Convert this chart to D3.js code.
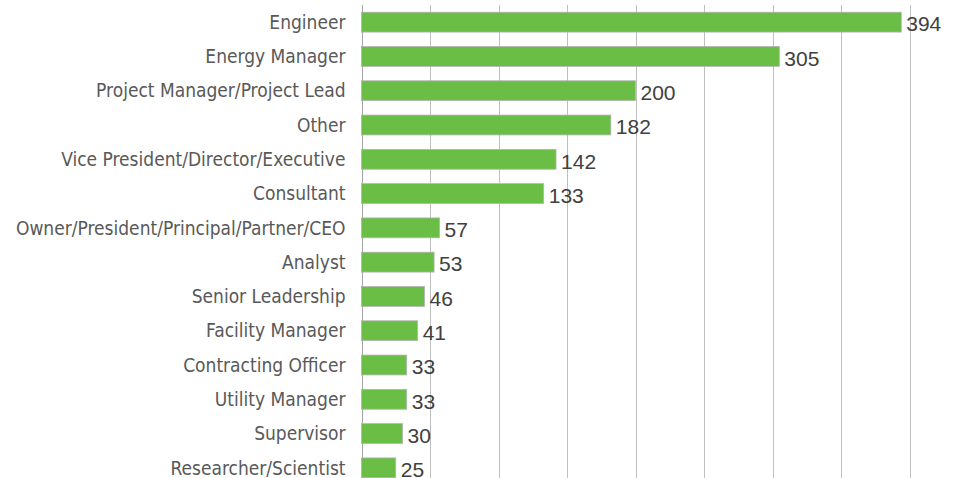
<!DOCTYPE html>
<html>
<head>
<meta charset="utf-8">
<script src="https://cdn.jsdelivr.net/npm/d3@7"></script>
<style>
  body { margin: 0; background: #fff; }
  text { font-family: "DejaVu Sans Condensed", "Liberation Sans Narrow", "Liberation Sans", sans-serif; }
  .value { font-family: "Liberation Sans", Arial, sans-serif; }
</style>
</head>
<body>
<svg id="drawing_region"></svg>
<script>
const categories = ['Engineer', 'Energy Manager', 'Project Manager/Project Lead', 'Other',
    'Vice President/Director/Executive', 'Consultant', 'Owner/President/Principal/Partner/CEO',
    'Analyst', 'Senior Leadership', 'Facility Manager', 'Contracting Officer',
    'Utility Manager', 'Supervisor', 'Researcher/Scientist'];
const counts = [394, 305, 200, 182, 142, 133, 57, 53, 46, 41, 33, 33, 30, 25];
const ticks = [0, 50, 100, 150, 200, 250, 300, 350, 400];

const width = 963, height = 478;
const margin = {top: 5, right: 53.5, bottom: -7, left: 361.5};

const svg = d3.select('#drawing_region')
    .attr('width', width)
    .attr('height', height);

const x = d3.scaleLinear()
    .domain([0, 400])
    .range([margin.left, width - margin.right]);

const y = d3.scaleBand()
    .domain(categories)
    .range([margin.top, height - margin.bottom])
    .paddingInner(0.42)
    .paddingOuter(0.21);

// vertical gridlines
svg.append('g')
    .selectAll('line')
    .data(ticks)
    .join('line')
    .attr('x1', d => Math.round(x(d)) + 0.5)
    .attr('x2', d => Math.round(x(d)) + 0.5)
    .attr('y1', margin.top)
    .attr('y2', height)
    .attr('stroke', d => d === 0 ? '#a6a6a6' : '#bfbfbf')
    .attr('stroke-width', 1);

svg.append('g')
    .selectAll('rect')
    .data(counts)
    .join('rect')
    .attr('x', x(0))
    .attr('y', (d, i) => y(categories[i]))
    .attr('width', d => x(d) - x(0))
    .attr('height', y.bandwidth())
    .attr('fill', '#6abd45')
    .attr('stroke', '#b5b5b5')
    .attr('stroke-width', 0.8);

// category labels
svg.append('g')
    .selectAll('text')
    .data(categories)
    .join('text')
    .attr('x', margin.left - 16)
    .attr('y', d => y(d) + y.bandwidth() / 2)
    .attr('dy', '0.35em')
    .attr('text-anchor', 'end')
    .attr('fill', '#595959')
    .style('font-size', '19px')
    .text(d => d);

// value labels
svg.append('g')
    .selectAll('text')
    .data(counts)
    .join('text')
    .attr('class', 'value')
    .attr('x', d => x(d) + 5)
    .attr('y', (d, i) => y(categories[i]) + y.bandwidth() / 2 + 2)
    .attr('dy', '0.35em')
    .attr('fill', '#404040')
    .style('font-size', '21px')
    .text(d => d);
</script>
</body>
</html>
